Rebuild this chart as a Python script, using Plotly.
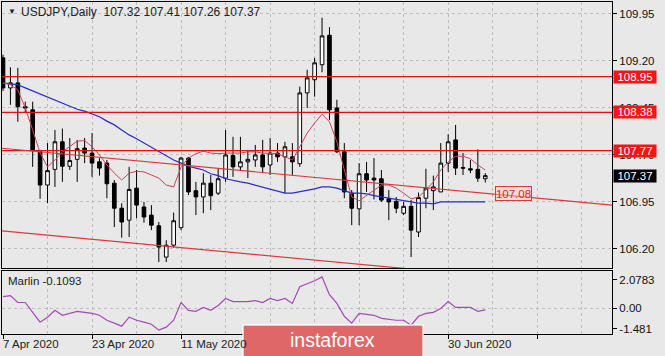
import plotly.graph_objects as go

# ---------------- data ----------------
opens = [109.25,108.77,108.85,108.47,108.42,107.75,107.22,107.47,107.91,107.52,
         107.63,107.81,107.73,107.59,107.57,107.25,106.85,106.66,107.17,106.87,
         106.74,106.57,106.07,106.26,106.54,107.65,107.13,107.03,107.25,107.09,
         107.33,107.69,107.51,107.59,107.62,107.70,107.54,107.73,107.67,107.67,
         107.56,108.69,108.90,109.14,109.61,108.45,107.75,107.09,106.84,107.40,
         107.33,107.32,107.00,106.96,106.77,106.88,106.47,107.01,107.13,107.11,
         107.57,107.94,107.50,107.48,107.47,107.32]
highs = [109.30,109.10,109.09,108.55,108.55,107.78,107.89,108.10,108.12,107.97,
         107.94,107.97,108.05,107.65,107.62,107.30,106.93,107.51,107.46,106.95,
         106.90,106.63,106.34,106.78,107.67,107.67,107.27,107.41,107.38,107.49,
         108.10,107.99,107.99,107.78,107.86,107.94,107.97,107.89,107.91,107.89,
         108.79,109.06,109.25,109.89,109.74,108.58,107.89,107.14,107.57,107.59,
         107.65,107.46,107.14,107.03,106.95,106.98,107.10,107.48,107.37,107.89,
         108.03,108.18,107.73,107.62,107.79,107.41]
lows = [108.72,108.50,108.23,108.38,107.51,107.00,106.93,107.19,107.27,107.46,
        107.27,107.57,107.35,107.37,107.01,106.55,106.38,106.39,106.69,106.62,
        106.50,105.99,105.99,106.22,106.50,107.06,106.74,106.77,106.82,107.06,
        107.27,107.35,107.46,107.33,107.51,107.41,107.38,107.59,107.09,107.38,
        107.51,108.45,108.63,109.02,108.26,107.73,107.01,106.58,106.58,107.11,
        106.99,106.95,106.66,106.77,106.74,106.07,106.39,106.85,106.82,107.11,
        107.43,107.38,107.38,107.41,107.27,107.26]
closes = [108.77,108.85,108.47,108.45,107.78,107.22,107.45,107.91,107.52,107.61,
          107.80,107.73,107.57,107.49,107.24,106.85,106.63,107.15,106.90,106.71,
          106.58,106.23,106.26,106.65,107.65,107.11,107.03,107.25,107.05,107.32,
          107.70,107.51,107.59,107.63,107.70,107.51,107.73,107.67,107.83,107.59,
          108.69,108.93,109.17,109.60,108.42,107.75,107.11,106.85,107.40,107.30,
          107.30,106.98,106.95,106.85,106.88,106.50,107.02,107.17,107.19,107.57,
          107.91,107.49,107.49,107.46,107.33,107.37]
ma_fast = [108.85,108.82,108.74,108.45,108.10,107.73,107.51,107.62,107.75,107.83,
           107.92,107.93,107.83,107.70,107.54,107.41,107.30,107.41,107.44,107.43,
           107.38,107.33,107.22,107.19,107.51,107.65,107.72,107.76,107.73,107.72,
           107.73,107.73,107.73,107.75,107.75,107.73,107.73,107.72,107.67,107.62,
           107.83,108.05,108.21,108.35,108.23,107.91,107.46,107.03,106.97,107.05,
           107.14,107.22,107.22,107.17,107.09,107.00,107.03,107.14,107.27,107.46,
           107.59,107.68,107.68,107.64,107.54,107.46]
ma_slow = [108.85,108.83,108.82,108.77,108.72,108.67,108.63,108.58,108.53,108.48,
           108.43,108.40,108.35,108.31,108.24,108.18,108.10,108.02,107.96,107.89,
           107.83,107.75,107.68,107.62,107.57,107.52,107.49,107.46,107.40,107.37,
           107.32,107.29,107.27,107.25,107.22,107.19,107.16,107.13,107.09,107.09,
           107.11,107.14,107.16,107.19,107.19,107.17,107.13,107.09,107.09,107.08,
           107.05,107.03,107.01,107.00,106.98,106.95,106.93,106.93,106.92,106.95,
           106.95,106.95,106.95,106.95,106.95,106.95]
marlin = [0.86,0.93,0.43,0.43,-0.29,-1.00,-0.64,-0.14,-0.50,-0.36,
          -0.21,-0.29,-0.36,-0.50,-0.86,-1.07,-1.29,-0.64,-0.86,-1.00,
          -1.15,-1.58,-1.36,-0.86,0.43,-0.14,-0.21,0.07,-0.14,0.21,
          0.72,0.50,0.50,0.50,0.57,0.43,0.72,0.57,0.72,0.36,
          1.58,1.79,2.01,2.29,1.00,0.36,-0.57,-1.07,-0.36,-0.43,
          -0.50,-0.72,-0.79,-0.86,-0.86,-1.22,-0.57,-0.36,-0.29,0.00,
          0.50,0.07,0.07,0.07,-0.21,-0.11]

# date labels visible in the picture (the ones at bars 36 and 48 sit under the watermark)
date_label_bars = [0, 12, 24, 60]
date_labels = ["7 Apr 2020", "23 Apr 2020", "11 May 2020", "30 Jun 2020"]

price_ticks = [109.95, 109.20, 108.45, 107.70, 106.95, 106.20]
osc_ticks = [2.0783, 0.0, -1.481]
osc_tick_text = ["2.0783", "0.00", "-1.481"]

levels = [108.95, 108.38, 107.77]
current_price = 107.37
trend_x = [-0.4, 82.1]
trend_upper = [107.81, 106.90]
trend_lower = [106.49, 105.58]
trend_label_value = 107.08
trend_label_bar = 66.3

header = "USDJPY,Daily\u00a0\u00a0107.32 107.41 107.26 107.37"
marlin_label = "Marlin -0.1093"
watermark = "instaforex"

# ---------------- figure ----------------
W, H = 665, 356
FONT = "Liberation Sans, Arial, sans-serif"
BG = "#E8E8E8"
GRID = "#BDBDBD"

def px(xp):
    return xp / W

def py(yp):
    return 1 - yp / H

bars = list(range(len(opens)))

fig = go.Figure()
fig.add_trace(go.Candlestick(
    x=bars, open=opens, high=highs, low=lows, close=closes,
    increasing=dict(fillcolor="white", line=dict(color="black", width=1)),
    decreasing=dict(fillcolor="black", line=dict(color="black", width=1)),
    whiskerwidth=0, xaxis="x", yaxis="y", showlegend=False, hoverinfo="skip"))
fig.add_trace(go.Scatter(x=bars, y=ma_slow, mode="lines",
                         line=dict(color="#2B2BC8", width=1.2), xaxis="x", yaxis="y",
                         showlegend=False, hoverinfo="skip"))
fig.add_trace(go.Scatter(x=bars, y=ma_fast, mode="lines",
                         line=dict(color="#D0405C", width=1), xaxis="x", yaxis="y",
                         showlegend=False, hoverinfo="skip"))
fig.add_trace(go.Scatter(x=bars, y=marlin, mode="lines",
                         line=dict(color="#A24BB4", width=1.2), xaxis="x2", yaxis="y2",
                         showlegend=False, hoverinfo="skip"))

shapes = []
for lv in levels:
    shapes.append(dict(type="line", xref="x domain", yref="y", x0=0, x1=1, y0=lv, y1=lv,
                       line=dict(color="#E01010", width=1.2), layer="above"))
shapes.append(dict(type="line", xref="x", yref="y", x0=trend_x[0], x1=trend_x[1],
                   y0=trend_upper[0], y1=trend_upper[1],
                   line=dict(color="#E03838", width=1.2), layer="above"))
shapes.append(dict(type="line", xref="x", yref="y", x0=trend_x[0], x1=trend_x[1],
                   y0=trend_lower[0], y1=trend_lower[1],
                   line=dict(color="#E03838", width=1.2), layer="above"))
shapes.append(dict(type="line", xref="x2 domain", yref="y2", x0=0, x1=1, y0=0, y1=0,
                   line=dict(color=GRID, width=1, dash="3px,3px"), layer="below"))
# watermark box
shapes.append(dict(type="rect", xref="paper", yref="paper", x0=px(243), x1=px(423),
                   y0=py(358), y1=py(325), fillcolor="#E06767",
                   line=dict(color="rgba(255,255,255,0.85)", width=1.5), layer="above"))

ann = []
ann.append(dict(text="▼", xref="paper", yref="paper", x=px(6), y=py(12), xanchor="left",
                yanchor="middle", showarrow=False, font=dict(family=FONT, size=8, color="#222")))
ann.append(dict(text=header, xref="paper", yref="paper", x=px(19), y=py(12), xanchor="left",
                yanchor="middle", showarrow=False, font=dict(family=FONT, size=12, color="#222")))
ann.append(dict(text=marlin_label, xref="paper", yref="paper", x=px(6), y=py(281), xanchor="left",
                yanchor="middle", showarrow=False, font=dict(family=FONT, size=11.5, color="#222")))
for b, lab in zip(date_label_bars, date_labels):
    ann.append(dict(text=lab, xref="x2", yref="paper", x=b, y=py(344), xanchor="left",
                    xshift=-2, yanchor="middle", showarrow=False,
                    font=dict(family=FONT, size=11.5, color="#222")))
for lv in levels:
    ann.append(dict(text=f"{lv:.2f}", xref="paper", yref="y", x=px(613), y=lv, xanchor="left",
                    yanchor="middle", showarrow=False, bgcolor="#F41515", width=42, height=12,
                    borderpad=0, font=dict(family=FONT, size=11.5, color="white")))
ann.append(dict(text=f"{current_price:.2f}", xref="paper", yref="y", x=px(613), y=current_price,
                xanchor="left", yanchor="middle", showarrow=False, bgcolor="black", width=42,
                height=12, borderpad=0, font=dict(family=FONT, size=11.5, color="white")))
ann.append(dict(text=f"{trend_label_value:.2f}", xref="x", yref="y", x=trend_label_bar,
                y=trend_label_value, xanchor="left", yanchor="middle", showarrow=False,
                bgcolor="rgba(255,205,205,0.45)", bordercolor="#E03838", borderwidth=1,
                borderpad=0, width=35, height=13,
                font=dict(family=FONT, size=11.5, color="#D42A2A")))
ann.append(dict(text=watermark, xref="paper", yref="paper", x=px(332), y=py(340),
                xanchor="center", yanchor="middle", showarrow=False,
                font=dict(family=FONT, size=19.5, color="white")))

xrange = [-0.135, 82.08]
xdom = [px(2), px(612)]
fig.update_layout(
    width=W, height=H, autosize=False,
    margin=dict(l=0, r=0, t=0, b=0, pad=0),
    paper_bgcolor=BG, plot_bgcolor=BG,
    boxgap=0.3,
    shapes=shapes, annotations=ann,
    xaxis=dict(domain=xdom, range=xrange, anchor="y", showticklabels=False,
               tickmode="linear", tick0=0, dtick=6, ticks="",
               showgrid=True, gridcolor=GRID, griddash="3px,3px", gridwidth=1,
               showline=True, mirror=True, linecolor="black", linewidth=1,
               zeroline=False, rangeslider=dict(visible=False), fixedrange=True),
    yaxis=dict(domain=[py(268), py(2)], range=[105.896, 110.141], anchor="x", side="right",
               tickmode="array", tickvals=price_ticks, ticktext=[f"{v:.2f}" for v in price_ticks],
               ticks="outside", ticklen=4, tickcolor="black",
               showgrid=True, gridcolor=GRID, griddash="3px,3px", gridwidth=1,
               showline=True, mirror=True, linecolor="black", linewidth=1,
               zeroline=False, tickfont=dict(family=FONT, size=11.5, color="#111"),
               fixedrange=True),
    xaxis2=dict(domain=xdom, range=xrange, anchor="y2", showticklabels=False,
                tickmode="linear", tick0=0, dtick=12, ticks="outside", ticklen=4,
                tickcolor="black",
                showgrid=True, gridcolor=GRID, griddash="3px,3px", gridwidth=1,
                minor=dict(tickmode="linear", tick0=0, dtick=6, showgrid=True,
                           gridcolor=GRID, griddash="3px,3px", ticks=""),
                showline=True, mirror=True, linecolor="black", linewidth=1,
                zeroline=False, fixedrange=True),
    yaxis2=dict(domain=[py(334), py(271)], range=[-1.86, 2.72], anchor="x2", side="right",
                tickmode="array", tickvals=osc_ticks, ticktext=osc_tick_text,
                ticks="outside", ticklen=4, tickcolor="black", showgrid=False,
                showline=True, mirror=True, linecolor="black", linewidth=1,
                zeroline=False, tickfont=dict(family=FONT, size=11.5, color="#111"),
                fixedrange=True),
)

fig.write_html("out.html", config={"displayModeBar": False},
               post_script="document.body.style.margin='0px';document.body.style.overflow='hidden';")
